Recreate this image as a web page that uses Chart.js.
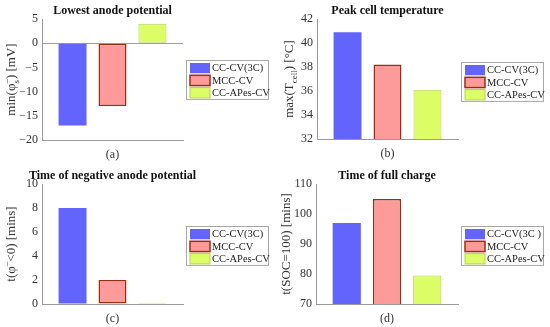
<!DOCTYPE html>
<html>
<head>
<meta charset="utf-8">
<script src="https://cdn.jsdelivr.net/npm/chart.js@4/dist/chart.umd.min.js"></script>
<style>
  body { margin: 0; background: #fff; }
  #wrap { position: relative; width: 550px; height: 327px; }
  canvas { position: absolute; }
</style>
</head>
<body>
<div id="wrap">
  <canvas id="cA" width="275" height="163" style="left:0;top:0"></canvas>
  <canvas id="cB" width="275" height="163" style="left:275px;top:0"></canvas>
  <canvas id="cC" width="275" height="164" style="left:0;top:163px"></canvas>
  <canvas id="cD" width="275" height="164" style="left:275px;top:163px"></canvas>
</div>
<script>
// data
const methods = ['CC-CV(3C)', 'MCC-CV', 'CC-APes-CV'];
const methodsD = ['CC-CV(3C )', 'MCC-CV', 'CC-APes-CV'];
const lowestAnode = [-17, -13, 4];
const peakTemp = [40.9, 38.2, 36.1];
const negTime = [8, 2, 0.1];
const fullCharge = [97, 105, 79.5];

const barFill = ['#6363fd', '#fd9a9a', '#dcfd66'];
const barEdge = ['#6363fd', '#9c2c14', '#b9cf55'];
const SERIF = '"Liberation Serif", "DejaVu Serif", serif';

// draws rotated text pieces, sup/sub stacked where both are given
function drawRich(ctx, parts, x, y, size) {
    ctx.save();
    ctx.translate(x, y);
    ctx.rotate(-Math.PI / 2);
    ctx.fillStyle = '#333';
    ctx.textBaseline = 'middle';
    const small = Math.round(size * 0.72);
    let total = 0;
    const w = parts.map(p => {
        if (p.t) { ctx.font = size + 'px ' + SERIF; return ctx.measureText(p.t).width; }
        ctx.font = small + 'px ' + SERIF;
        return Math.max(ctx.measureText(p.sup || '').width, ctx.measureText(p.sub || '').width);
    });
    w.forEach(v => total += v);
    let cx = -total / 2;
    parts.forEach((p, i) => {
        ctx.textAlign = 'left';
        if (p.t) {
            ctx.font = size + 'px ' + SERIF;
            ctx.fillText(p.t, cx, 0);
        } else {
            ctx.font = small + 'px ' + SERIF;
            if (p.sup) ctx.fillText(p.sup, cx, -size * 0.38);
            if (p.sub) ctx.fillText(p.sub, cx, size * 0.34);
        }
        cx += w[i];
    });
    ctx.restore();
}

function makePanel(id, labels, values, cat, yMin, yMax, step, title, yTitle, opts) {
    const canvas = document.getElementById(id);
    const datasets = labels.map((lab, i) => ({
        label: lab,
        data: [values[i]],
        backgroundColor: barFill[i],
        borderColor: barEdge[i],
        borderWidth: i === 0 ? 0 : (i === 1 ? 1.5 : 1),
        borderSkipped: false
    }));

    const decor = {
        id: 'decor',
        afterDraw(chart) {
            const ctx = chart.ctx;
            const a = chart.chartArea;
            // title
            ctx.save();
            ctx.font = 'bold 12px ' + SERIF;
            ctx.fillStyle = '#111';
            ctx.textAlign = 'center';
            ctx.textBaseline = 'middle';
            ctx.fillText(title, (a.left + a.right) / 2, opts.titleY);
            ctx.restore();
            // y axis title
            drawRich(ctx, yTitle, opts.yTitleX, (a.top + a.bottom) / 2, 13);
            // legend box
            const lx = 186, ly = opts.legendY, lw = 82, rowH = 12.3;
            ctx.save();
            ctx.fillStyle = '#fff';
            ctx.strokeStyle = '#a8a8a8';
            ctx.lineWidth = 1;
            ctx.fillRect(lx, ly, lw, rowH * 3 + 2);
            ctx.strokeRect(lx + 0.5, ly + 0.5, lw, rowH * 3 + 2);
            ctx.font = '10.5px ' + SERIF;
            ctx.textBaseline = 'middle';
            ctx.textAlign = 'left';
            chart.data.datasets.forEach((ds, i) => {
                const ry = ly + 2 + i * rowH;
                ctx.fillStyle = ds.backgroundColor;
                ctx.fillRect(lx + 4, ry + 1, 20, rowH - 2);
                if (ds.borderWidth) {
                    ctx.strokeStyle = ds.borderColor;
                    ctx.lineWidth = ds.borderWidth;
                    ctx.strokeRect(lx + 4, ry + 1, 20, rowH - 2);
                }
                ctx.fillStyle = '#222';
                ctx.fillText(ds.label, lx + 26, ry + rowH / 2 + 0.5);
            });
            ctx.restore();
        }
    };

    return new Chart(canvas.getContext('2d'), {
        type: 'bar',
        data: { labels: [cat], datasets: datasets },
        options: {
            responsive: false,
            animation: false,
            layout: { padding: { left: 0, top: opts.top, right: 92, bottom: 0 } },
            datasets: { bar: { categoryPercentage: 0.85, barPercentage: 0.7 } },
            plugins: { legend: { display: false }, tooltip: { enabled: false }, title: { display: false } },
            scales: {
                x: {
                    grid: { display: false },
                    border: { display: true, color: '#9a9a9a' },
                    ticks: { color: '#333', font: { family: SERIF, size: 12 }, padding: 0 },
                    afterFit(s) { s.height = opts.xH; }
                },
                y: {
                    min: yMin, max: yMax,
                    grid: {
                        drawTicks: false,
                        color: ctx => (opts.zeroLine && ctx.tick && ctx.tick.value === 0) ? '#a0a0a0' : 'rgba(0,0,0,0)'
                    },
                    border: { display: true, color: '#9a9a9a' },
                    ticks: {
                        stepSize: step, color: '#333', padding: 4,
                        font: { family: SERIF, size: 12 },
                        callback: v => String(v).replace('-', '\u2212')
                    },
                    afterFit(s) { s.width = opts.yW; }
                }
            }
        },
        plugins: [decor]
    });
}

makePanel('cA', methods, lowestAnode, '(a)', -20, 5, 5, 'Lowest anode potential',
    [{ t: 'min(\u03c6' }, { sup: '\u2013', sub: 's' }, { t: ') [mV]' }],
    { top: 19, xH: 23, yW: 42, titleY: 11, yTitleX: 12, legendY: 60, zeroLine: true });

makePanel('cB', methods, peakTemp, '(b)', 32, 42, 2, 'Peak cell temperature',
    [{ t: 'max(T' }, { sub: 'cell' }, { t: ') [\u00b0C]' }],
    { top: 19, xH: 24, yW: 42, titleY: 11, yTitleX: 15, legendY: 62 });

makePanel('cC', methods, negTime, '(c)', 0, 10, 2, 'Time of negative anode potential',
    [{ t: 't(\u03c6' }, { sup: '\u2013' }, { t: '<0) [mins]' }],
    { top: 21, xH: 23, yW: 42, titleY: 13, yTitleX: 12, legendY: 63 });

makePanel('cD', methodsD, fullCharge, '(d)', 70, 110, 10, 'Time of full charge',
    [{ t: 't(SOC=100) [mins]' }],
    { top: 21, xH: 23, yW: 41, titleY: 13, yTitleX: 12, legendY: 63 });
</script>
</body>
</html>
